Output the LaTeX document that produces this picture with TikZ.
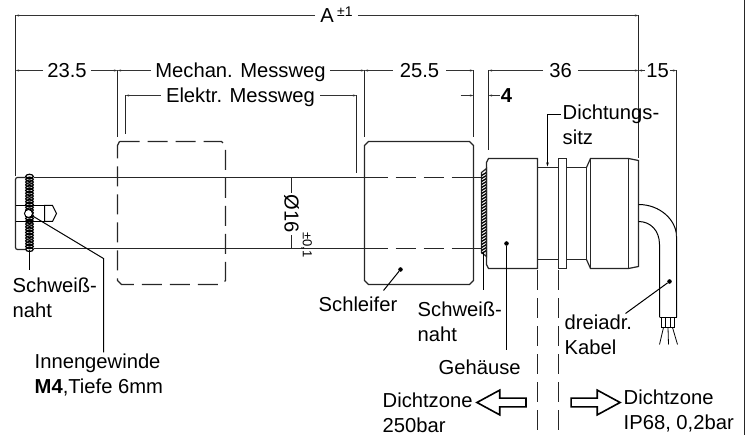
\documentclass[tikz,border=0pt]{standalone}
\usepackage{fontspec}
\setmainfont{Liberation Sans}
\usepackage{xcolor}
\usetikzlibrary{shapes,arrows.meta,positioning}

\begin{document}
\begin{tikzpicture}[
    x=1pt, y=-1pt, shift={(0.5,0.5)},
    dimline/.style={-{Stealth[length=3.5pt,width=2pt]}, line width=0.9pt, black!80},
    extline/.style={line width=1.1pt, black!85},
    outline/.style={line width=1.2pt, black!85},
    dimtext/.style={font=\fontsize{20.2}{25}\selectfont, text height=14.5pt, text depth=0pt, inner xsep=4pt, inner ysep=0pt},
    note/.style={font=\fontsize{20.2}{25}\selectfont, align=left, anchor=west, inner sep=0pt},
    leader/.style={line width=1pt, black},
    dot/.style={circle, fill=black, inner sep=1.6pt},
    zone/.style={dash pattern=on 20pt off 8pt, line width=1pt, black!85},
    hollow/.style={single arrow, draw, line width=1.6pt, inner sep=3.6pt, minimum height=49pt, minimum width=24pt, single arrow head extend=8pt, single arrow tip angle=57, outer sep=0pt},
]
    \useasboundingbox (-0.5,-0.5) rectangle (747.5,434.5);

    % Frame line on the right
    \coordinate (rimtop) at (744,-0.5);
    \coordinate (rimbot) at (744,434.5);
    \draw[line width=1.3pt, black!85] (rimtop) -- (rimbot);

    % Rod
    \coordinate (rodtl) at (33,177);
    \coordinate (rodtr) at (387,177);
    \coordinate (rodbl) at (33,248);
    \coordinate (rodbr) at (387,248);
    \coordinate (dashtl) at (395,177);
    \coordinate (dashtr) at (481,177);
    \coordinate (dashbl) at (395,248);
    \coordinate (dashbr) at (481,248);
    \draw[outline] (rodtl) -- (rodtr);
    \draw[outline] (rodbl) -- (rodbr);
    \draw[outline, dash pattern=on 20pt off 8pt on 20pt off 8pt on 30pt off 8pt] (dashtl) -- (dashtr);
    \draw[outline, dash pattern=on 20pt off 8pt on 20pt off 8pt on 30pt off 8pt] (dashbl) -- (dashbr);

    % Rod end with thread and bore
    \draw[outline, rounded corners=2pt] (25,177) -- (15,177) -- (15,249) -- (25,249);
    \foreach \yy in {176,178.8,...,249} {
        \draw[line width=1.2pt] (29,\yy) ellipse (3.8 and 2.2);
    }
    \draw[line width=1.6pt] (15,205) -- (44,205);
    \draw[line width=1.6pt] (15,221) -- (44,221);
    \draw[line width=1pt] (44,205) -- (52,205) -- (56,213) -- (52,221) -- (44,221) -- cycle;
    \node[circle, draw, fill=white, line width=1pt, minimum size=8pt, inner sep=0pt] (bore) at (28,213) {};

    % Sliders
    \draw[outline, dash pattern=on 20pt off 8pt] (119,141) -- (221,141) -- (225,145) -- (225,280) -- (221,284) -- (121,284) -- (117,280) -- (117,145) -- cycle;
    \draw[outline] (368,141) -- (469,141) -- (473,145) -- (473,280) -- (469,284) -- (368,284) -- (364,280) -- (364,145) -- cycle;

    % Weld seam at the housing
    \draw[outline, fill=white] (481,172) -- (486,168) -- (486,256) -- (481,252) -- cycle;
    \foreach \yy in {172,175,...,250} {
        \draw[line width=1.3pt] (481,\yy+3) -- (486,\yy);
    }

    % Housing
    \draw[outline] (486,162) -- (488,158) -- (537,158) -- (537,268) -- (488,268) -- (486,264) -- cycle;
    \draw[outline] (537,167) -- (558,167);
    \draw[outline] (537,259) -- (558,259);
    \draw[outline] (558,158) rectangle (566,268);
    \draw[outline] (566,167) -- (586,167) -- (586,259) -- (566,259);
    \draw[outline] (586,167) -- (590,158) -- (628,158) -- (638,160) -- (638,266) -- (628,268) -- (590,268) -- (586,259);
    \draw[outline] (590,158) -- (590,268);
    \draw[outline] (628,158) -- (628,268);

    % Cable
    \draw[line width=1pt] (638,204) .. controls (660,204) and (676,220) .. (676,236) -- (676,317);
    \draw[line width=1pt] (638,221) .. controls (650,221) and (659,230) .. (659,244) -- (659,317);
    \draw[line width=1pt] (659,317) -- (676,317);
    \draw[line width=0.8pt] (661,317) -- (661,327) -- (674,327) -- (674,317);
    \draw[line width=0.8pt] (665,317) -- (665,327);
    \draw[line width=0.8pt] (670,317) -- (670,327);
    \draw[line width=0.8pt] (663,327) -- (659,344);
    \draw[line width=0.8pt] (667.5,327) -- (668,344);
    \draw[line width=0.8pt] (672,327) -- (677,344);

    % Extension lines
    \coordinate (aleft) at (15,15);
    \coordinate (aright) at (638,15);
    \coordinate (lefthigh) at (15,70);
    \coordinate (mechl) at (117,70);
    \coordinate (mechr) at (364,70);
    \coordinate (wiperr) at (473,70);
    \coordinate (bodyl) at (488,70);
    \coordinate (endr) at (638,70);
    \coordinate (cabler) at (676,70);
    \coordinate (elekl) at (125,95);
    \coordinate (elekr) at (356,95);
    \draw[extline] (aleft) -- (15,176);
    \draw[extline] (aright) -- (638,158);
    \draw[extline] (mechl) -- (117,137);
    \draw[extline] (mechr) -- (364,137);
    \draw[extline] (wiperr) -- (473,137);
    \draw[extline] (bodyl) -- (488,150);
    \draw[extline] (cabler) -- (676,236);
    \draw[extline] (elekl) -- (125,134);
    \draw[extline] (elekr) -- (356,173);

    % Dimension labels
    \node[dimtext, inner xsep=5pt] (dima) at (336,15) {A\,\raisebox{6pt}{\fontsize{14}{14}\selectfont ±1}};
    \node[dimtext] (dimleft) at (66.5,70) {23.5};
    \node[dimtext] (dimmech) at (240,70) {Mechan. Messweg};
    \node[dimtext, inner xsep=5pt] (dimelek) at (240,95) {Elektr. Messweg};
    \node[dimtext, inner xsep=7pt] (dimwiper) at (419,70) {25.5};
    \node[dimtext, inner xsep=6pt] (dimbody) at (560,70) {36};
    \node[dimtext, inner xsep=1pt] (dimcable) at (657,70) {15};
    \node[dimtext, inner xsep=1pt] (dimgap) at (506,95) {\textbf{4}};

    % Dimension lines
    \draw[dimline] (dima) -- (aleft);
    \draw[dimline] (dima) -- (aright);
    \draw[dimline] (dimleft) -- (lefthigh);
    \draw[dimline] (dimleft) -- (mechl);
    \draw[dimline] (dimmech) -- (mechl);
    \draw[dimline] (dimmech) -- (mechr);
    \draw[dimline] (dimelek) -- (elekl);
    \draw[dimline] (dimelek) -- (elekr);
    \draw[dimline] (dimwiper) -- (mechr);
    \draw[dimline] (dimwiper) -- (wiperr);
    \draw[dimline] (dimbody) -- (bodyl);
    \draw[dimline] (dimbody) -- (endr);
    \draw[dimline] (dimcable) -- (endr);
    \draw[dimline] (dimcable) -- (cabler);
    \coordinate (gaptail) at (460,95);
    \coordinate (gapl) at (473,95);
    \coordinate (gapr) at (488,95);
    \draw[dimline] (gaptail) -- (gapl);
    \draw[dimline] (dimgap) -- (gapr);

    % Diameter
    \node[font=\fontsize{20.2}{25}\selectfont, rotate=-90, inner sep=1.5pt] (dia) at (291,213.5) {Ø16};
    \node[font=\fontsize{13}{13}\selectfont, rotate=-90, inner sep=0pt] (diatol) at (306,244.5) {±0,1};
    \coordinate (diatop) at (291,177);
    \coordinate (diabot) at (291,248);
    \draw[extline] (diatop) -- (dia);
    \draw[extline] (diabot) -- (dia);

    % Sealing zone lines
    \coordinate (zonela) at (537,270);
    \coordinate (zonelb) at (537,434);
    \coordinate (zonera) at (558,270);
    \coordinate (zonerb) at (558,434);
    \draw[zone] (zonela) -- (zonelb);
    \draw[zone] (zonera) -- (zonerb);

    % Notes
    \node[note] (weldleft) at (12,297.5) {Schweiß-\\naht};
    \node[note] (thread) at (34,374.5) {Innengewinde\\\textbf{M4},Tiefe 6mm};
    \node[note] (wiper) at (318,304) {Schleifer};
    \node[note] (weldbody) at (417,321.5) {Schweiß-\\naht};
    \node[note] (body) at (438,367) {Gehäuse};
    \node[note] (cable) at (564,334.5) {dreiadr.\\Kabel};
    \node[note] (seat) at (562,124) {Dichtungs-\\sitz};
    \node[note] (zoneleft) at (382,412) {Dichtzone\\250bar};
    \node[note] (zoneright) at (623,410.5) {Dichtzone\\IP68, 0,2bar};

    % Hollow arrows
    \node[hollow, shape border rotate=180] (arrowleft) at (505,402) {};
    \node[hollow] (arrowright) at (591,402) {};

    % Leaders
    \node[dot] (wiperdot) at (400,269) {};
    \node[dot] (bodydot) at (506,243) {};
    \node[dot] (cabledot) at (669,281) {};
    \coordinate (wiperfoot) at (383,290);
    \coordinate (bodyfoot) at (506,350);
    \coordinate (cablefoot) at (625,313);
    \coordinate (threadknee) at (103,258);
    \coordinate (threadfoot) at (103,352);
    \coordinate (weldltop) at (29,250);
    \coordinate (weldlfoot) at (29,270);
    \coordinate (weldbtop) at (483,252);
    \coordinate (weldbfoot) at (483,290);
    \coordinate (seatstart) at (560,114);
    \coordinate (seatknee) at (547,114);
    \coordinate (seattip) at (547,166);
    \draw[leader] (wiperdot) -- (wiperfoot);
    \draw[leader] (bodydot) -- (bodyfoot);
    \draw[leader] (cabledot) -- (cablefoot);
    \draw[leader] (bore) -- (threadknee) -- (threadfoot);
    \draw[leader] (weldltop) -- (weldlfoot);
    \draw[leader] (weldbtop) -- (weldbfoot);
    \draw[leader, -{Stealth[length=4pt,width=2.5pt]}] (seatstart) -- (seatknee) -- (seattip);
\end{tikzpicture}
\end{document}
